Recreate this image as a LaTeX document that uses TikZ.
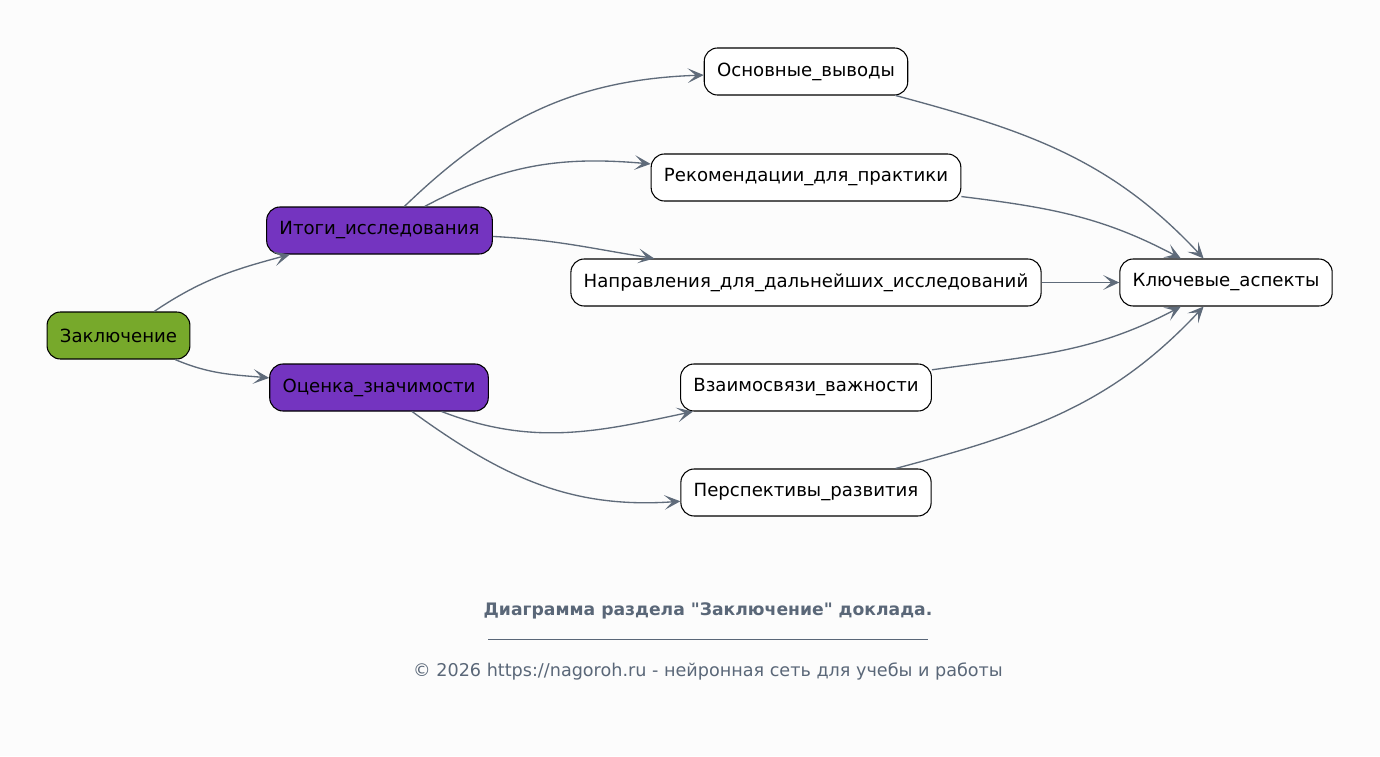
\documentclass[tikz,border=0pt]{standalone}
\usepackage{fontspec}
\setmainfont{DejaVu Sans}[Ligatures=TeXOff]
\usetikzlibrary{arrows.meta}
\definecolor{edgegray}{HTML}{5F6B7A}
\definecolor{leafgreen}{HTML}{77A92B}
\definecolor{sectpurple}{HTML}{7434C0}
\definecolor{footgray}{HTML}{5A6778}
\definecolor{bgwhite}{HTML}{FCFCFC}
\tikzset{
  box/.style={draw=black, line width=0.8pt, rounded corners=10pt, minimum height=35.25pt,
    inner xsep=9.6pt, font=\fontsize{13.6}{16}\selectfont, text=black, fill=white},
  link/.style={draw=edgegray, line width=1pt, -{Stealth[length=12pt,width=11pt,inset=6pt]}}
}
\begin{document}
\begin{tikzpicture}[x=0.75pt,y=-0.75pt]
\fill[bgwhite] (0,0) rectangle (1380,756);
\useasboundingbox (0,0) rectangle (1380,756);

\node[box, fill=leafgreen] (zakl) at (118.5,335.5) {Заключение};
\node[box, fill=sectpurple] (itogi) at (379.5,230.5) {Итоги\_исследования};
\node[box, fill=sectpurple] (ocenka) at (379,387.5) {Оценка\_значимости};

\node[box] (vyvody) at (806,71.5) {Основные\_выводы};
\node[box] (rekom) at (806,177.5) {Рекомендации\_для\_практики};
\node[box] (naprav) at (806,282.5) {Направления\_для\_дальнейших\_исследований};
\node[box] (vzaim) at (806,387.5) {Взаимосвязи\_важности};
\node[box] (persp) at (806,492.5) {Перспективы\_развития};

\node[box] (klyuch) at (1226,282.5) {Ключевые\_аспекты};

% edges
\draw[link] (zakl) to[out=34,in=195] (itogi);
\draw[link] (zakl) to[out=-23,in=175] (ocenka);

\draw[link] (itogi) to[out=44,in=182] (vyvody);
\draw[link] (itogi) to[out=28,in=175] (rekom);
\draw[link] (itogi) to[out=-3,in=171] (naprav);
\draw[link] (ocenka) to[out=-21,in=192] (vzaim);
\draw[link] (ocenka) to[out=-36,in=184] (persp);

\draw[link] (vyvody) to[out=-15,in=133] (klyuch);
\draw[link] (rekom) to[out=-7,in=152] (klyuch);
\draw[link] (naprav) -- (klyuch);
\draw[link] (vzaim) to[out=8,in=208] (klyuch);
\draw[link] (persp) to[out=15,in=227] (klyuch);

% footer
\node[text=footgray, font=\fontsize{12.9}{15}\selectfont\bfseries] (title) at (708,611) {Диаграмма раздела "Заключение" доклада.};
\coordinate (ruleL) at (488,639);
\coordinate (ruleR) at (928,639);
\draw[footgray, line width=0.6pt] (ruleL) -- (ruleR);
\node[text=footgray, font=\fontsize{13.2}{15}\selectfont] (copy) at (708,671) {© 2026 https://nagoroh.ru - нейронная сеть для учебы и работы};
\end{tikzpicture}
\end{document}
